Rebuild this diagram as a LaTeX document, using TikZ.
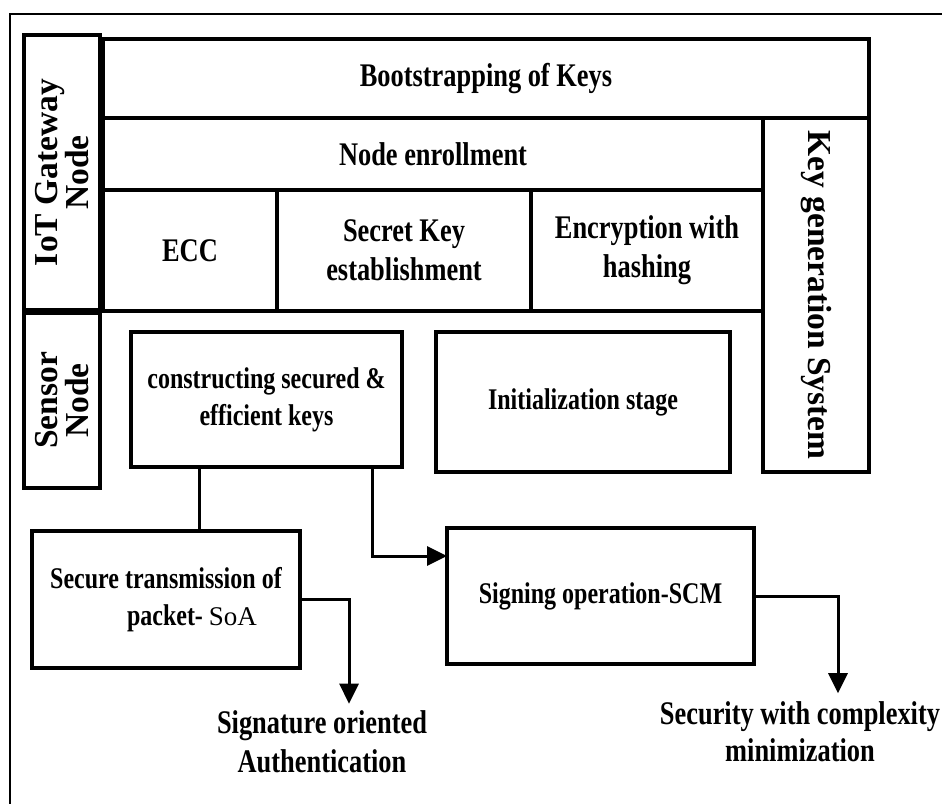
\documentclass[tikz,border=0pt]{standalone}
\usepackage{fontspec}
\setmainfont{Liberation Serif}[FakeStretch=0.8]
\newfontfamily\fullwidth{Liberation Serif}
\usepackage{tikz}
\usetikzlibrary{arrows.meta,positioning}

\begin{document}
\begin{tikzpicture}[
      x=1pt, y=-1pt,
      every node/.style={font=\bfseries\fontsize{30}{37}\selectfont, align=center},
      big/.style={font=\bfseries\fontsize{33}{39}\selectfont},
      blk/.style={draw, line width=3.2pt, inner sep=0pt, outer sep=0pt},
      side/.style={font=\fullwidth\bfseries\fontsize{33.5}{31}\selectfont},
      link/.style={line width=3pt},
      arr/.style={link, -{Triangle[length=20pt, width=19pt]}}
    ]
  \useasboundingbox (0,0) rectangle (942,803);
  \clip (0,0) rectangle (942,803);
  % outer frame, runs off the page at the right and at the bottom
  \draw[line width=2.6pt] (10,14) rectangle (990,850);

  % --- upper block: key bootstrapping ---
  \node[blk, big, minimum width=766pt, minimum height=79pt] (boot) at (486,78.5) {Bootstrapping of Keys};
  \node[blk, big, anchor=north west, minimum width=660pt, minimum height=72pt] (enrol) at (boot.south west) {Node enrollment};
  \node[blk, anchor=north east, minimum width=106pt, minimum height=354pt] (keygen) at (boot.south east) {};
  \node[side, rotate=-90] (keygen-t) at (keygen) {Key generation System};

  \node[blk, big, anchor=north west, minimum width=174pt, minimum height=121pt] (ecc) at (enrol.south west) {ECC};
  \node[blk, big, right=0pt of ecc, minimum width=254pt, minimum height=121pt] (secret) {Secret Key\\establishment};
  \node[blk, big, right=0pt of secret, minimum width=232pt, minimum height=121pt] (encr) {Encryption with\\hashing};

  % --- node types on the left ---
  \node[blk, minimum width=76pt, minimum height=275pt] (gateway) at (62,172.5) {};
  \node[side, rotate=90] (gateway-t) at (gateway) {IoT Gateway\\Node};
  \node[blk, minimum width=76pt, minimum height=175pt] (sensor) at (62,400.5) {};
  \node[side, rotate=90] (sensor-t) at (sensor) {Sensor\\Node};

  % --- key construction and signing ---
  \node[blk, minimum width=271pt, minimum height=135pt] (constr) at (266.5,399.5) {constructing secured \&\\efficient keys};
  \node[blk, minimum width=294pt, minimum height=140pt] (init) at (583,402) {Initialization stage};
  \node[blk, minimum width=268pt, minimum height=137pt] (secure) at (166,599.5)
    {Secure transmission of\\\hspace*{52pt}packet- {\fullwidth\mdseries\fontsize{27}{37}\selectfont SoA}};
  \node[blk, minimum width=307pt, minimum height=136pt] (signing) at (600.5,596) {Signing operation-SCM};

  \node[big, inner sep=0pt] (sigauth) at (322,742) {Signature oriented\\Authentication};
  \node[big, inner sep=0pt, font=\bfseries\fontsize{33}{37}\selectfont] (secmin) at (800,731.5) {Security with complexity\\minimization};

  % connectors
  \draw[link] ([xshift=-67pt]constr.south) -- ([xshift=-67pt]constr.south |- secure.north);
  \draw[arr] ([xshift=106pt]constr.south) |- ([yshift=40pt]signing.west);
  \draw[arr] (secure.east) -| ([xshift=27pt, yshift=7pt]sigauth.north);
  \draw[arr] (signing.east) -| ([xshift=38pt, yshift=8pt]secmin.north);
\end{tikzpicture}
\end{document}
